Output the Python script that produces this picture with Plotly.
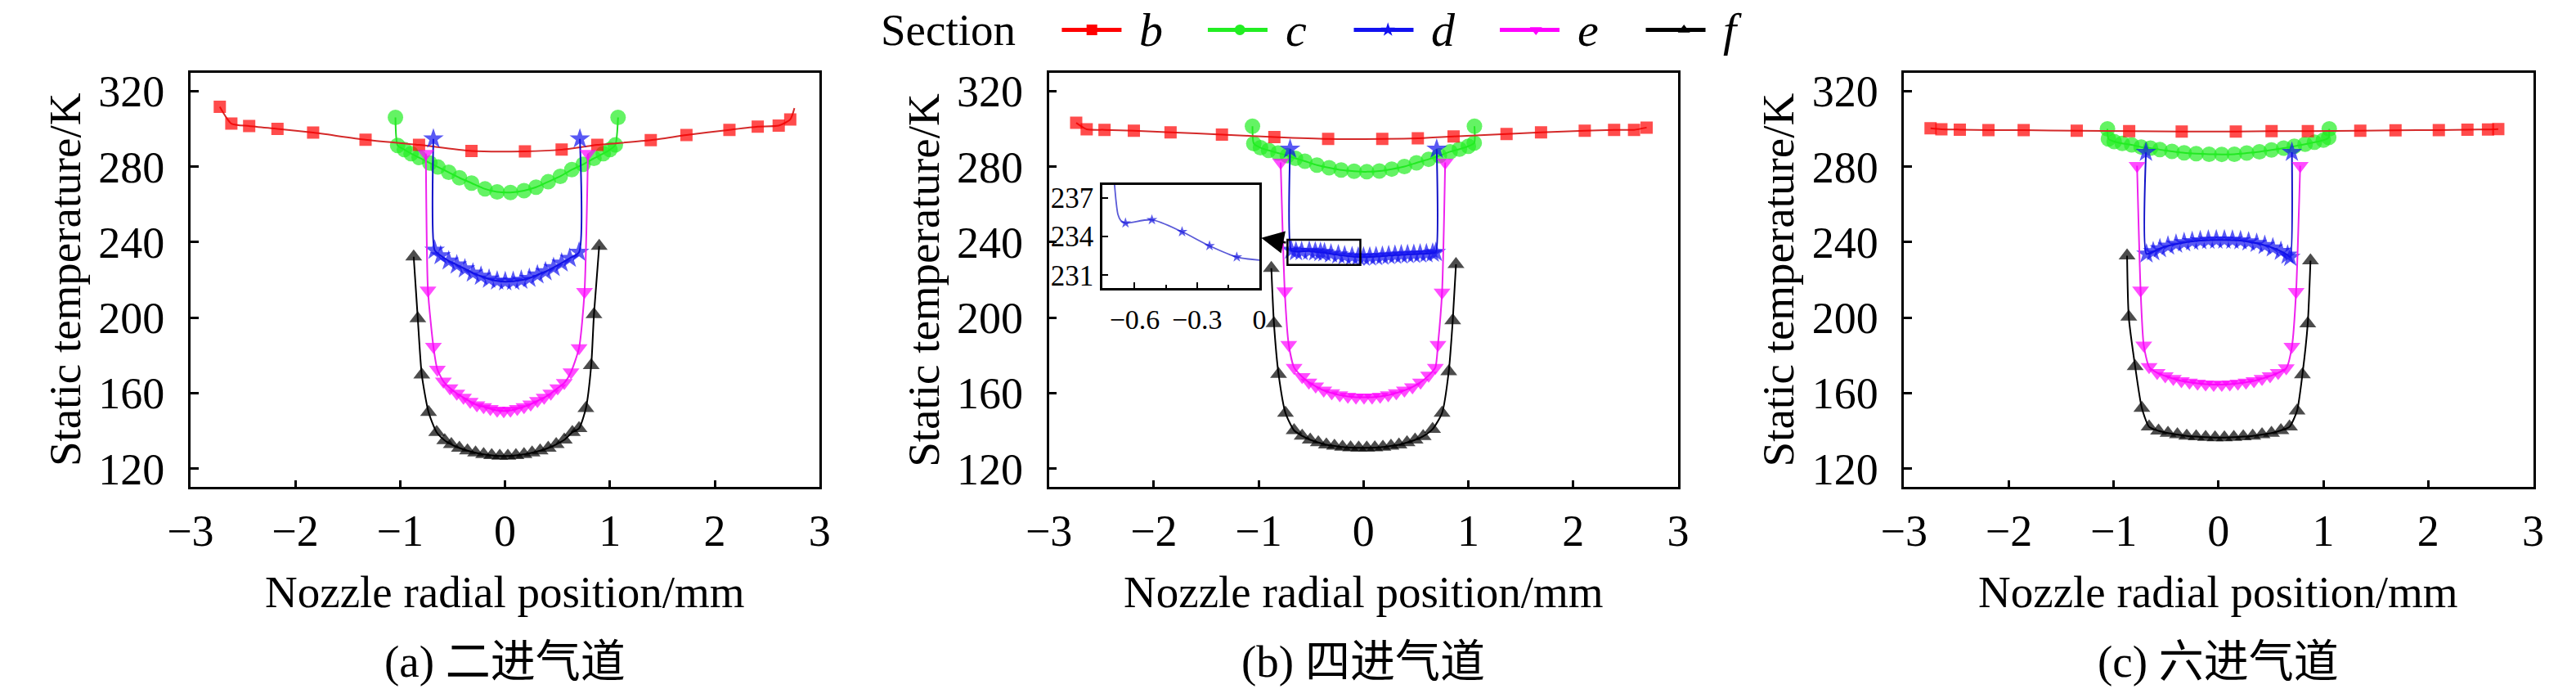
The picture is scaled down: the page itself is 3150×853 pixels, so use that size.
import plotly.graph_objects as go

# ---------------- data ----------------
x_ticks = [-3, -2, -1, 0, 1, 2, 3]
x_tick_text = ["\u22123", "\u22122", "\u22121", "0", "1", "2", "3"]
y_ticks = [120, 160, 200, 240, 280, 320]
y_tick_text = ["120", "160", "200", "240", "280", "320"]
section_names = ["b", "c", "d", "e", "f"]
panel_captions = ["(a) 二进气道", "(b) 四进气道", "(c) 六进气道"]

# panel (a)
a_b_x = [-2.72, -2.61, -2.44, -2.17, -1.83, -1.33, -0.82, -0.32, 0.19, 0.54, 0.88, 1.39, 1.73, 2.14, 2.41, 2.61, 2.72, 2.76]
a_b_T = [311.7, 302.8, 301.5, 300.0, 298.0, 294.3, 291.5, 288.3, 288.1, 289.0, 291.5, 294.0, 296.7, 299.5, 301.2, 301.7, 305.0, 311.0]
a_c_x = [-1.045, -1.024, -0.960, -0.896, -0.819, -0.717, -0.640, -0.537, -0.435, -0.319, -0.191, -0.075, 0.052, 0.181, 0.296, 0.412, 0.527, 0.637, 0.745, 0.848, 0.937, 1.001, 1.052, 1.078]
a_c_T = [306.1, 291.2, 289.0, 286.9, 284.8, 281.9, 279.8, 277.0, 274.1, 271.3, 268.2, 266.6, 266.3, 267.3, 269.1, 272.0, 274.9, 278.4, 281.2, 284.4, 286.9, 289.0, 291.5, 306.1]
a_d_x = [-0.683, -0.671, -0.614, -0.537, -0.460, -0.383, -0.306, -0.229, -0.152, -0.075, 0.002, 0.078, 0.155, 0.232, 0.309, 0.386, 0.463, 0.540, 0.617, 0.706, 0.714]
a_d_T = [294.7, 235.8, 232.9, 230.1, 228.0, 225.9, 223.7, 222.0, 220.5, 219.5, 219.1, 219.3, 219.9, 220.9, 222.7, 224.4, 226.6, 229.0, 231.5, 234.7, 294.7]
a_e_x = [-0.755, -0.735, -0.683, -0.645, -0.588, -0.525, -0.460, -0.396, -0.332, -0.268, -0.204, -0.140, -0.075, -0.012, 0.052, 0.117, 0.181, 0.245, 0.309, 0.373, 0.437, 0.502, 0.565, 0.629, 0.706, 0.758, 0.791]
a_e_T = [286.9, 214.5, 184.7, 172.6, 166.3, 162.7, 159.9, 157.7, 155.6, 153.7, 152.8, 151.8, 150.9, 150.6, 150.9, 151.8, 152.8, 154.2, 156.0, 157.7, 159.9, 162.7, 165.5, 171.2, 184.0, 213.8, 286.9]
a_f_x = [-0.871, -0.832, -0.794, -0.729, -0.652, -0.575, -0.512, -0.435, -0.358, -0.281, -0.204, -0.127, -0.050, 0.027, 0.104, 0.181, 0.258, 0.335, 0.412, 0.488, 0.565, 0.642, 0.706, 0.771, 0.822, 0.848, 0.898]
a_f_T = [232.3, 199.6, 169.8, 149.9, 139.3, 135.0, 132.9, 131.0, 129.6, 128.5, 127.6, 127.1, 126.8, 126.8, 127.1, 127.6, 128.5, 129.6, 131.0, 132.9, 135.3, 139.3, 141.4, 152.0, 174.8, 201.7, 237.9]

# panel (b)
b_b_x = [-2.74, -2.64, -2.47, -2.19, -1.84, -1.35, -0.85, -0.337, 0.179, 0.518, 0.859, 1.364, 1.693, 2.11, 2.39, 2.58, 2.70]
b_b_T = [303.2, 299.8, 299.5, 299.0, 298.2, 297.0, 295.7, 294.7, 294.7, 295.0, 296.0, 297.3, 298.2, 299.0, 299.5, 299.5, 300.7]
b_c_x = [-1.059, -1.046, -0.982, -0.905, -0.815, -0.726, -0.649, -0.559, -0.444, -0.328, -0.213, -0.090, 0.031, 0.151, 0.269, 0.390, 0.505, 0.621, 0.723, 0.826, 0.915, 1.000, 1.056, 1.058]
b_c_T = [301.4, 292.2, 290.0, 288.6, 287.2, 285.8, 284.4, 282.9, 280.8, 279.4, 278.2, 277.6, 277.3, 277.7, 278.7, 280.1, 282.0, 283.9, 285.8, 287.9, 289.3, 290.8, 292.5, 301.4]
b_d_x = [-0.700, -0.690, -0.644, -0.590, -0.517, -0.460, -0.410, -0.372, -0.310, -0.240, -0.180, -0.109, -0.050, 0.000, 0.060, 0.120, 0.180, 0.240, 0.300, 0.360, 0.420, 0.480, 0.540, 0.600, 0.660, 0.690, 0.698]
b_d_T = [289.3, 235.8, 235.0, 235.1, 235.3, 234.9, 234.6, 234.4, 233.8, 233.3, 232.8, 232.4, 232.2, 232.1, 232.2, 232.4, 232.6, 232.9, 233.1, 233.3, 233.5, 233.6, 233.8, 233.9, 234.2, 234.6, 289.3]
b_e_x = [-0.790, -0.751, -0.713, -0.662, -0.585, -0.521, -0.456, -0.379, -0.303, -0.226, -0.149, -0.072, 0.005, 0.082, 0.159, 0.236, 0.313, 0.390, 0.467, 0.544, 0.621, 0.685, 0.710, 0.749, 0.779]
b_e_T = [282.2, 214.1, 185.7, 173.6, 168.7, 165.8, 163.7, 161.5, 160.1, 159.0, 158.3, 157.9, 157.8, 157.9, 158.3, 159.0, 160.1, 161.5, 163.3, 165.8, 169.4, 173.6, 185.7, 213.4, 282.2]
b_f_x = [-0.879, -0.854, -0.810, -0.744, -0.662, -0.585, -0.508, -0.431, -0.354, -0.277, -0.200, -0.123, -0.046, 0.031, 0.108, 0.185, 0.262, 0.338, 0.415, 0.492, 0.569, 0.659, 0.749, 0.813, 0.851, 0.882]
b_f_T = [226.2, 197.0, 170.1, 149.5, 140.3, 137.4, 135.3, 133.9, 132.7, 132.1, 131.5, 131.2, 131.1, 131.1, 131.2, 131.5, 132.1, 132.7, 133.9, 135.3, 137.2, 141.0, 149.5, 171.5, 198.5, 228.3]

# zoomed inset of section d, panel (b)
inset_x = [-0.699, -0.689, -0.680, -0.667, -0.644, -0.517, -0.372, -0.240, -0.109, 0.000]
inset_T = [238.5, 236.7, 235.7, 235.25, 235.05, 235.3, 234.37, 233.28, 232.41, 232.17]
inset_x_ticks = [-0.6, -0.3, 0]
inset_x_tick_text = ["\u22120.6", "\u22120.3", "0"]
inset_y_ticks = [231, 234, 237]

# panel (c)
c_b_x = [-2.746, -2.643, -2.467, -2.194, -1.858, -1.352, -0.852, -0.351, 0.165, 0.506, 0.852, 1.352, 1.688, 2.101, 2.374, 2.570, 2.668]
c_b_T = [300.3, 299.8, 299.6, 299.4, 299.3, 299.0, 298.8, 298.6, 298.6, 298.8, 298.8, 299.0, 299.2, 299.4, 299.6, 299.7, 299.9]
c_c_x = [-1.059, -1.050, -0.995, -0.918, -0.828, -0.738, -0.649, -0.559, -0.444, -0.328, -0.213, -0.090, 0.031, 0.151, 0.269, 0.390, 0.505, 0.621, 0.723, 0.826, 0.915, 1.000, 1.051, 1.056]
c_c_T = [300.0, 294.7, 293.3, 292.3, 291.5, 290.4, 289.8, 289.0, 288.1, 287.3, 286.9, 286.6, 286.5, 286.6, 287.2, 287.9, 288.8, 289.8, 290.8, 291.9, 292.9, 294.0, 295.4, 300.0]
c_d_x = [-0.692, -0.687, -0.623, -0.559, -0.482, -0.405, -0.328, -0.251, -0.174, -0.097, -0.021, 0.056, 0.133, 0.210, 0.287, 0.364, 0.441, 0.518, 0.595, 0.659, 0.685, 0.700]
c_d_T = [287.6, 233.8, 235.0, 236.6, 238.0, 239.0, 239.8, 240.4, 240.8, 241.1, 241.2, 241.2, 241.1, 240.8, 240.2, 239.4, 238.3, 237.0, 235.2, 233.2, 232.0, 287.6]
c_e_x = [-0.777, -0.743, -0.713, -0.662, -0.585, -0.508, -0.431, -0.354, -0.277, -0.200, -0.123, -0.046, 0.031, 0.108, 0.185, 0.262, 0.338, 0.415, 0.492, 0.569, 0.646, 0.700, 0.740, 0.779]
c_e_T = [280.5, 214.5, 185.4, 174.0, 170.8, 169.1, 167.7, 166.5, 165.8, 165.2, 164.8, 164.6, 164.6, 164.8, 165.2, 165.8, 166.5, 167.7, 169.1, 170.8, 173.3, 184.7, 213.8, 280.5]
c_f_x = [-0.872, -0.856, -0.795, -0.731, -0.662, -0.572, -0.482, -0.392, -0.303, -0.213, -0.123, -0.033, 0.056, 0.146, 0.236, 0.326, 0.415, 0.505, 0.595, 0.677, 0.749, 0.800, 0.851, 0.877]
c_f_T = [232.8, 200.4, 174.2, 152.1, 142.2, 140.1, 138.9, 138.1, 137.4, 137.0, 136.7, 136.5, 136.5, 136.7, 137.0, 137.4, 138.1, 138.9, 140.3, 142.2, 150.7, 169.9, 196.9, 230.2]

# ---------------- styling ----------------
W, H = 3150, 853
FONT = "Liberation Serif, Times New Roman, Noto Sans CJK SC, serif"
styles = {
    "b": dict(color="#ff0000", line="#d42a2a", symbol="square", size=15),
    "c": dict(color="#22ee22", line="#22dd22", symbol="circle", size=19),
    "d": dict(color="#1212f0", line="#1010c8", symbol="star", size=19),
    "e": dict(color="#ff00ff", line="#ee22ee", symbol="triangle-down", size=18),
    "f": dict(color="#000000", line="#000000", symbol="triangle-up", size=18),
}
draw_order = ["c", "b", "d", "e", "f"]

panels = [
    dict(x0=206.7, x1=986.7, data={"b": (a_b_x, a_b_T), "c": (a_c_x, a_c_T), "d": (a_d_x, a_d_T), "e": (a_e_x, a_e_T), "f": (a_f_x, a_f_T)}),
    dict(x0=1271.0, x1=2051.0, data={"b": (b_b_x, b_b_T), "c": (b_c_x, b_c_T), "d": (b_d_x, b_d_T), "e": (b_e_x, b_e_T), "f": (b_f_x, b_f_T)}),
    dict(x0=2331.0, x1=3111.0, data={"b": (c_b_x, c_b_T), "c": (c_c_x, c_c_T), "d": (c_d_x, c_d_T), "e": (c_e_x, c_e_T), "f": (c_f_x, c_f_T)}),
]
top_px, bot_px = 84.0, 599.0
ydom = [1 - bot_px / H, 1 - top_px / H]

fig = go.Figure()
layout = dict(width=W, height=H, margin=dict(l=0, r=0, t=0, b=0),
              paper_bgcolor="white", plot_bgcolor="white",
              font=dict(family=FONT, size=54, color="black"))

annotations = []
shapes = []
for i, p in enumerate(panels):
    n = "" if i == 0 else str(i + 1)
    xa, ya = "x" + n, "y" + n
    for key in draw_order:
        xs, ts = p["data"][key]
        st = styles[key]
        sizes = [st["size"]] * len(xs)
        if i == 0 and key == "b":
            sizes[-1] = 0
        fig.add_trace(go.Scatter(
            x=xs, y=ts, xaxis=xa, yaxis=ya, mode="lines+markers", showlegend=False,
            line=dict(color=st["line"], width=2.0, shape="spline", smoothing=0.6),
            marker=dict(symbol=st["symbol"], size=sizes, color=st["color"], line=dict(width=0)),
        ))
    layout["xaxis" + n] = dict(domain=[p["x0"] / W, p["x1"] / W], range=[-3, 3], anchor=ya,
                               tickvals=x_ticks, ticktext=x_tick_text, ticks="inside", ticklen=8, tickwidth=2.5,
                               tickcolor="black", showline=True, linecolor="black", linewidth=2.5, mirror=True,
                               showgrid=False, zeroline=False, ticklabelstandoff=5,
                               tickfont=dict(size=54, family=FONT))
    layout["yaxis" + n] = dict(domain=ydom, range=[110.5, 329.5], anchor=xa,
                               tickvals=y_ticks, ticktext=y_tick_text, ticks="inside", ticklen=10, tickwidth=2.5,
                               tickcolor="black", showline=True, linecolor="black", linewidth=2.5, mirror=True,
                               showgrid=False, zeroline=False, ticklabelstandoff=18,
                               tickfont=dict(size=54, family=FONT))
    cx = (p["x0"] + p["x1"]) / 2 / W
    annotations.append(dict(text="Static temperature/K", xref="paper", yref="paper",
                            x=(p["x0"] - 156) / W, y=1 - (top_px + bot_px) / 2 / H, textangle=-90,
                            showarrow=False, xanchor="center", yanchor="middle", font=dict(size=55, family=FONT)))
    annotations.append(dict(text="Nozzle radial position/mm", xref="paper", yref="paper", x=cx, y=1 - 730 / H,
                            showarrow=False, xanchor="center", yanchor="middle", font=dict(size=55, family=FONT)))
    annotations.append(dict(text=panel_captions[i], xref="paper", yref="paper", x=cx, y=1 - 817 / H,
                            showarrow=False, xanchor="center", yanchor="middle", font=dict(size=55, family=FONT)))

# inset (panel b, section d)
ins_sizes = [0 if (j < 4 or j == len(inset_x) - 1) else 10 for j in range(len(inset_x))]
fig.add_trace(go.Scatter(x=inset_x, y=inset_T, xaxis="x4", yaxis="y4", mode="lines+markers", showlegend=False,
                         line=dict(color="#5a5ad8", width=1.8, shape="spline", smoothing=0.8),
                         marker=dict(symbol="star", size=ins_sizes, color="#1515e0", line=dict(width=0))))
layout["xaxis4"] = dict(domain=[1337.3 / W, 1532.0 / W], range=[-0.755, 0], anchor="y4",
                        tickvals=inset_x_ticks, ticktext=inset_x_tick_text, ticks="inside", ticklen=7, tickwidth=2,
                        minor=dict(tickvals=[-0.45, -0.15], ticks="inside", ticklen=4, tickwidth=1.5, tickcolor="black"),
                        tickcolor="black", showline=True, linecolor="black", linewidth=2.5, mirror=True,
                        showgrid=False, zeroline=False, ticklabelstandoff=6, tickfont=dict(size=34, family=FONT))
layout["yaxis4"] = dict(domain=[1 - 351.7 / H, 1 - 223.3 / H], range=[230, 238], anchor="x4",
                        tickvals=inset_y_ticks, ticks="inside", ticklen=7, tickwidth=2,
                        tickcolor="black", showline=True, linecolor="black", linewidth=2.5, mirror=True,
                        showgrid=False, zeroline=False, ticklabelstandoff=1, tickfont=dict(size=35, family=FONT))

# zoom box and arrow in panel b
shapes.append(dict(type="rect", xref="x2", yref="y2", x0=-0.725, x1=-0.03, y0=228.0, y1=241.3,
                   line=dict(color="black", width=2.5), fillcolor="rgba(0,0,0,0)"))
annotations.append(dict(xref="x2", yref="y2", x=-0.975, y=242.3, axref="x2", ayref="y2", ax=-0.728, ay=239.6,
                        text="", showarrow=True, arrowhead=2, arrowsize=2.2, arrowwidth=2.5, arrowcolor="black"))

# legend: markers from the legend, long key lines and labels as layout decorations
LEG_Y = 30.0
leg_centers = [1324 + 181 * k for k in range(len(section_names))]
for k, key in enumerate(section_names):
    st = styles[key]
    fig.add_trace(go.Scatter(x=[None], y=[None], mode="markers", name=" ",
                             marker=dict(symbol=st["symbol"], size=13, color=st["color"])))
    shapes.append(dict(type="line", xref="paper", yref="paper",
                       x0=(leg_centers[k] - 37) / W, x1=(leg_centers[k] + 37) / W,
                       y0=1 - LEG_Y / H, y1=1 - LEG_Y / H, line=dict(color=st["color"], width=5)))
    annotations.append(dict(text="<i>%s</i>" % key, xref="paper", yref="paper", x=(leg_centers[k] + 57) / W,
                            y=1 - LEG_Y / H, xanchor="left", yanchor="middle", showarrow=False,
                            font=dict(size=58, family=FONT)))
annotations.append(dict(text="Section", xref="paper", yref="paper", x=1060 / W, y=1 - LEG_Y / H,
                        xanchor="left", yanchor="middle", showarrow=False, font=dict(size=55, family=FONT)))

layout["legend"] = dict(orientation="h", x=(leg_centers[0] - 20) / W, xanchor="left", y=1 - LEG_Y / H,
                        yanchor="middle", font=dict(size=10, family=FONT), bgcolor="rgba(0,0,0,0)",
                        entrywidth=136, itemwidth=30, borderwidth=0)
layout["annotations"] = annotations
layout["shapes"] = shapes
fig.update_layout(**layout)
fig.write_html("out.html", config={"displayModeBar": False},
               post_script="document.body.style.margin='0px';")
